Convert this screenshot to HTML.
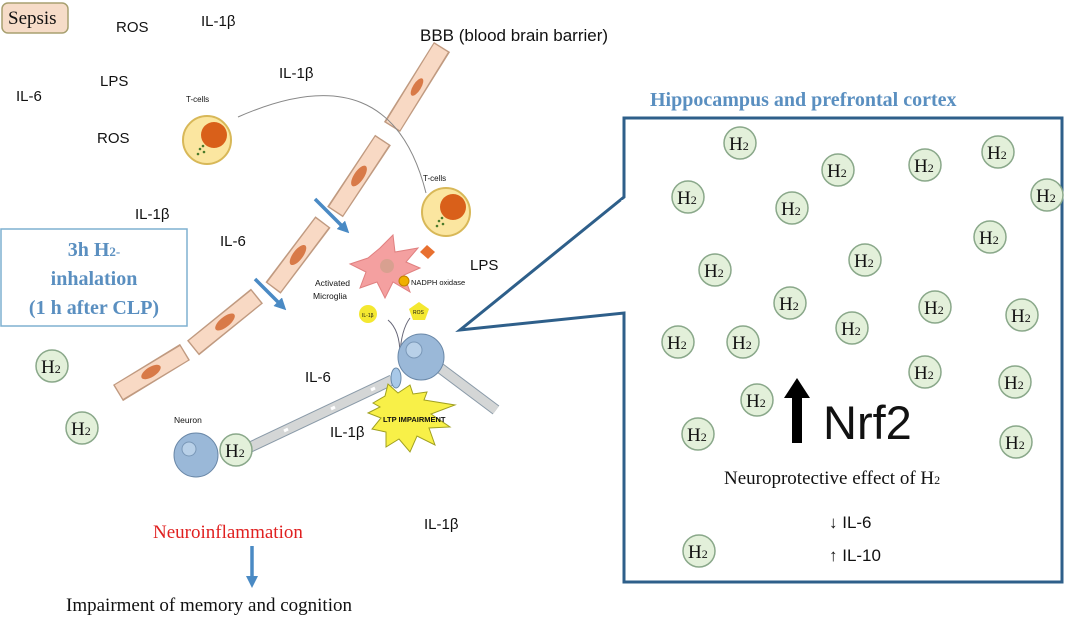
<!DOCTYPE html>
<html><head><meta charset="utf-8"><style>
body{margin:0;background:#fff}
svg{display:block}
.s{font-family:"Liberation Sans",sans-serif;fill:#111}
.r{font-family:"Liberation Serif",serif}
</style></head><body>
<svg width="1080" height="619" viewBox="0 0 1080 619" xmlns="http://www.w3.org/2000/svg">
<defs>
<g id="h2"><circle r="16" fill="#e3f0da" stroke="#8aa88a" stroke-width="1.5"/><text x="-11" y="7" class="r" font-size="19" fill="#111">H<tspan font-size="12">2</tspan></text></g>
<marker id="ab" markerUnits="userSpaceOnUse" markerWidth="12" markerHeight="12" refX="6" refY="6" orient="auto"><path d="M0,0 L12,6 L0,12z" fill="#4a8ac4"/></marker>
<g id="tc"><circle r="24" fill="#fbe6a0" stroke="#d8b858" stroke-width="2"/><circle cx="7" cy="-5" r="13" fill="#d9601a"/><circle cx="-7" cy="9" r="1.3" fill="#4a7a2a"/><circle cx="-3" cy="12" r="1.3" fill="#4a7a2a"/><circle cx="-9" cy="14" r="1.3" fill="#4a7a2a"/><circle cx="-4" cy="6" r="1.3" fill="#4a7a2a"/></g>
</defs>
<rect x="2" y="3" width="66" height="30" rx="6" fill="#f6dcc8" stroke="#a8a070" stroke-width="1.5"/>
<text x="8" y="24" class="r" font-size="19" fill="#111">Sepsis</text>
<g class="s" font-size="15">
<text x="116" y="32">ROS</text><text x="201" y="26">IL-1β</text>
<text x="100" y="86">LPS</text><text x="16" y="101">IL-6</text>
<text x="97" y="143">ROS</text><text x="279" y="78">IL-1β</text>
<text x="135" y="219">IL-1β</text><text x="220" y="246">IL-6</text>
<text x="470" y="270">LPS</text><text x="305" y="382">IL-6</text>
<text x="330" y="437">IL-1β</text><text x="424" y="529">IL-1β</text>
</g>
<text x="420" y="41" class="s" font-size="17">BBB (blood brain barrier)</text>
<rect x="1" y="229" width="186" height="97" fill="#fff" stroke="#7fb0d0" stroke-width="1.5"/>
<g class="r" font-weight="bold" font-size="20" text-anchor="middle">
<text x="94" y="256" fill="#5a8fc0">3h H<tspan font-size="13">2-</tspan></text>
<text x="94" y="285" fill="#5a8fc0">inhalation</text>
<text x="94" y="314" fill="#5a8fc0">(1 h after CLP)</text></g>
<!-- vessel -->
<g stroke="#c09a80" stroke-width="19" stroke-linecap="butt">
<line x1="442" y1="47" x2="392" y2="127"/><line x1="383" y1="140" x2="335" y2="212"/><line x1="323" y1="222" x2="273" y2="288"/><line x1="257" y1="296" x2="193" y2="348"/><line x1="185" y1="352" x2="118" y2="393"/>
</g>
<g stroke="#f8d9c4" stroke-width="16" stroke-linecap="butt">
<line x1="441" y1="48" x2="393" y2="126"/><line x1="382" y1="141" x2="336" y2="211"/><line x1="322" y1="223" x2="274" y2="287"/><line x1="256" y1="297" x2="194" y2="347"/><line x1="184" y1="353" x2="119" y2="392"/>
</g>
<g fill="#d87a48"><ellipse cx="417" cy="87" rx="4" ry="10" transform="rotate(32 417 87)"/><ellipse cx="359" cy="176" rx="5" ry="12" transform="rotate(34 359 176)"/><ellipse cx="298" cy="255" rx="5" ry="12" transform="rotate(37 298 255)"/><ellipse cx="225" cy="322" rx="5" ry="12" transform="rotate(51 225 322)"/><ellipse cx="151" cy="372" rx="5" ry="11" transform="rotate(58 151 372)"/></g>
<g stroke="#4a8ac4" stroke-width="3.5" marker-end="url(#ab)"><line x1="315" y1="199" x2="345" y2="229"/><line x1="255" y1="279" x2="282" y2="306"/><line x1="252" y1="546" x2="252" y2="582"/></g>
<path d="M238,117 Q390,50 426,193" fill="none" stroke="#888" stroke-width="1"/>
<text x="186" y="102" class="s" font-size="8" fill="#444">T-cells</text>
<use href="#tc" x="207" y="140"/>
<text x="423" y="181" class="s" font-size="8" fill="#444">T-cells</text>
<use href="#tc" x="446" y="212"/>
<path d="M380,248 L393,235 L395,252 L418,248 L406,262 L420,268 L404,275 L410,292 L393,282 L385,298 L377,282 L360,288 L366,272 L350,264 L368,258z" fill="#f4a0a0" stroke="#e08080"/>
<circle cx="387" cy="266" r="7" fill="#d8a090"/>
<circle cx="404" cy="281" r="5" fill="#f0b000" stroke="#c08000"/>
<polygon points="427,245 435,252 428,259 420,252" fill="#e87030"/>
<text x="411" y="285" class="s" font-size="7.5" fill="#333">NADPH oxidase</text>
<text x="315" y="286" class="s" font-size="8.5" fill="#333">Activated</text>
<text x="313" y="299" class="s" font-size="8.5" fill="#333">Microglia</text>
<circle cx="368" cy="314" r="9" fill="#f4e830"/><text x="362" y="317" font-size="5" class="s">IL-1β</text>
<polygon points="419,302 429,309 425,320 413,320 409,309" fill="#f4e830"/><text x="413" y="314" font-size="5" class="s">ROS</text>
<path d="M388,320 Q400,330 400,355 M410,318 Q401,330 400,355" fill="none" stroke="#667" stroke-width="1"/>
<!-- axons -->
<g stroke="#8a9aa8" stroke-width="11"><line x1="244" y1="450" x2="392" y2="380"/><line x1="440" y1="368" x2="496" y2="410"/></g>
<g stroke="#d4d6d6" stroke-width="9"><line x1="244" y1="450" x2="392" y2="380"/><line x1="440" y1="368" x2="496" y2="410"/></g>
<g stroke="#fff" stroke-width="3"><line x1="284" y1="431" x2="288" y2="429"/><line x1="331" y1="409" x2="335" y2="407"/><line x1="371" y1="390" x2="375" y2="388"/></g>
<ellipse cx="396" cy="378" rx="5" ry="10" fill="#a8c8e8" stroke="#6888a8"/>
<circle cx="421" cy="357" r="23" fill="#9ab8d8" stroke="#6a88a8"/>
<circle cx="414" cy="350" r="8" fill="#b8d0e8" stroke="#7a98b8"/>
<circle cx="196" cy="455" r="22" fill="#9ab8d8" stroke="#6a88a8"/>
<circle cx="189" cy="449" r="7" fill="#b8d0e8" stroke="#7a98b8"/>
<text x="174" y="423" class="s" font-size="8.5" fill="#333">Neuron</text>
<use href="#h2" x="236" y="450"/>
<polygon points="373,403 385,396 388,384 398,393 410,385 413,394 427,392 424,400 455,405 431,414 450,427 429,428 435,445 417,436 410,452 399,439 386,447 386,432 372,429 381,418 368,413 380,407" fill="#f8f048" stroke="#a0a020"/>
<text x="383" y="422" font-size="7.5" font-weight="bold" class="s">LTP IMPAIRMENT</text>
<use href="#h2" x="52" y="366"/><use href="#h2" x="82" y="428"/>
<text x="153" y="538" class="r" font-size="19" fill="#e02020">Neuroinflammation</text>
<text x="66" y="611" class="r" font-size="19" fill="#111">Impairment of memory and cognition</text>
<text x="650" y="106" class="r" font-size="20" font-weight="bold" fill="#5a8fc0">Hippocampus and prefrontal cortex</text>
<path d="M624,197 L624,118 L1062,118 L1062,582 L624,582 L624,313 L460,330 Z" fill="#fff" stroke="#2e5f8a" stroke-width="3"/>
<line x1="624" y1="200" x2="624" y2="310" stroke="#fff" stroke-width="5"/>
<g>
<use href="#h2" x="740" y="143"/><use href="#h2" x="838" y="170"/><use href="#h2" x="925" y="165"/><use href="#h2" x="998" y="152"/>
<use href="#h2" x="688" y="197"/><use href="#h2" x="792" y="208"/><use href="#h2" x="1047" y="195"/><use href="#h2" x="990" y="237"/>
<use href="#h2" x="865" y="260"/><use href="#h2" x="715" y="270"/><use href="#h2" x="790" y="303"/><use href="#h2" x="935" y="307"/>
<use href="#h2" x="1022" y="315"/><use href="#h2" x="678" y="342"/><use href="#h2" x="743" y="342"/><use href="#h2" x="852" y="328"/>
<use href="#h2" x="925" y="372"/><use href="#h2" x="1015" y="382"/><use href="#h2" x="757" y="400"/><use href="#h2" x="698" y="434"/>
<use href="#h2" x="1016" y="442"/><use href="#h2" x="699" y="551"/>
</g>
<polygon points="797,378 810,398 802,398 802,443 792,443 792,398 784,398" fill="#000"/>
<text x="823" y="439" class="s" font-size="47" fill="#000">Nrf2</text>
<text x="724" y="484" class="r" font-size="19" fill="#111">Neuroprotective effect of H<tspan font-size="12">2</tspan></text>
<text x="829" y="528" class="s" font-size="17" fill="#111">↓ IL-6</text>
<text x="829" y="561" class="s" font-size="17" fill="#111">↑ IL-10</text>
</svg>
</body></html>
